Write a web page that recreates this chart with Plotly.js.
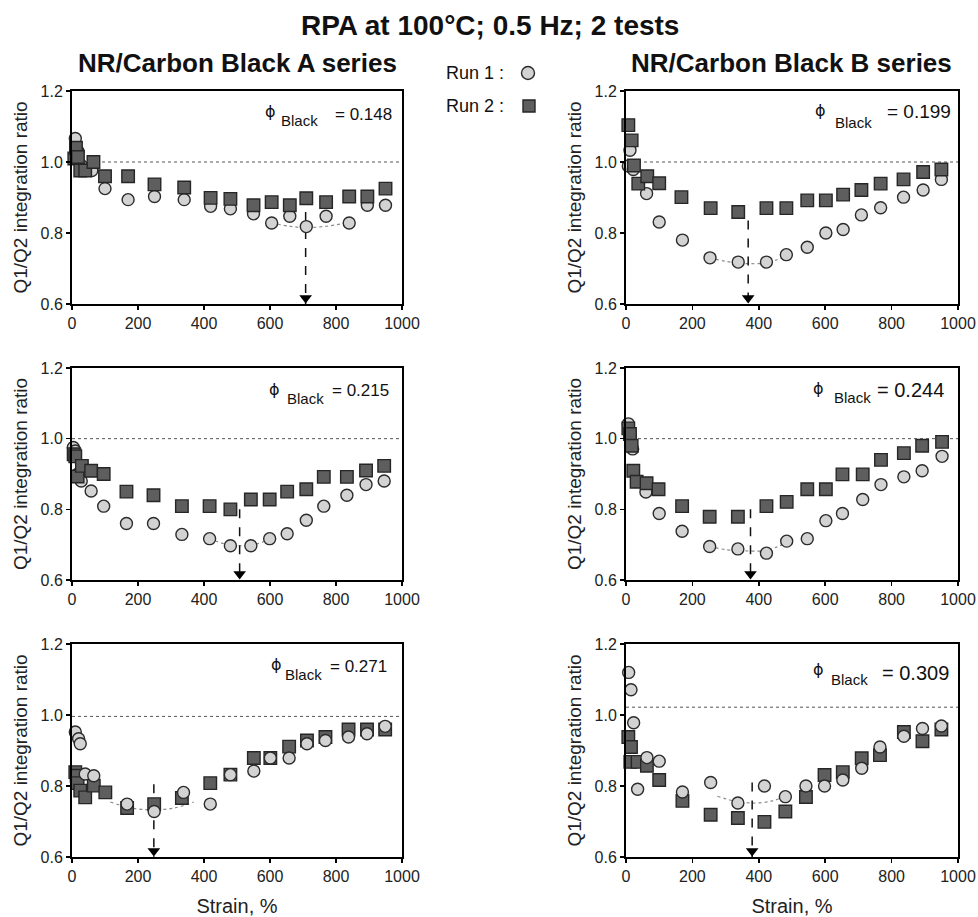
<!DOCTYPE html>
<html>
<head>
<meta charset="utf-8">
<script src="https://cdn.plot.ly/plotly-3.0.1.min.js"></script>
<style>html,body{margin:0;padding:0;background:#fff;}#chart{width:978px;height:917px;}</style>
</head>
<body>
<div id="chart"></div>
<script>
// ---------- DATA ----------
const xTicks = [0, 200, 400, 600, 800, 1000];
const yTicks = [0.6, 0.8, 1.0, 1.2];
const seriesTitles = ["NR/Carbon Black A series", "NR/Carbon Black B series"];
const phiValues = ["0.148", "0.199", "0.215", "0.244", "0.271", "0.309"];

// Panel 1: A, phi 0.148
const p1_run1_strain = [10, 18, 28, 60, 100, 170, 250, 340, 420, 480, 550, 605, 660, 710, 770, 840, 895, 950];
const p1_run1_ratio  = [1.066, 1.03, 0.99, 0.976, 0.925, 0.894, 0.903, 0.894, 0.875, 0.868, 0.854, 0.828, 0.847, 0.818, 0.847, 0.828, 0.878, 0.878];
const p1_run2_strain = [7, 12, 18, 25, 40, 65, 100, 170, 250, 340, 420, 480, 550, 605, 660, 710, 770, 840, 895, 950];
const p1_run2_ratio  = [1.01, 1.04, 1.014, 0.976, 0.976, 1.0, 0.96, 0.96, 0.937, 0.928, 0.899, 0.896, 0.878, 0.887, 0.878, 0.898, 0.887, 0.903, 0.903, 0.925];
// Panel 2: B, phi 0.199
const p2_run1_strain = [7, 12, 22, 62, 100, 170, 253, 338, 423, 483, 546, 602, 654, 709, 767, 836, 895, 950];
const p2_run1_ratio  = [0.989, 1.033, 0.979, 0.911, 0.831, 0.78, 0.73, 0.718, 0.718, 0.739, 0.76, 0.80, 0.81, 0.851, 0.871, 0.901, 0.921, 0.951];
const p2_run2_strain = [7, 17, 24, 37, 64, 100, 167, 255, 338, 423, 483, 546, 602, 654, 709, 767, 836, 895, 950];
const p2_run2_ratio  = [1.104, 1.061, 0.99, 0.939, 0.96, 0.94, 0.901, 0.87, 0.859, 0.87, 0.87, 0.892, 0.892, 0.908, 0.921, 0.939, 0.951, 0.972, 0.979];
// Panel 3: A, phi 0.215
const p3_run1_strain = [4, 10, 18, 28, 58, 96, 165, 247, 333, 417, 480, 542, 599, 652, 710, 763, 833, 891, 946];
const p3_run1_ratio  = [0.975, 0.965, 0.90, 0.88, 0.852, 0.809, 0.76, 0.76, 0.729, 0.717, 0.697, 0.697, 0.717, 0.731, 0.769, 0.809, 0.84, 0.87, 0.88];
const p3_run2_strain = [5, 10, 17, 30, 58, 96, 165, 247, 333, 417, 480, 542, 599, 652, 710, 763, 833, 891, 946];
const p3_run2_ratio  = [0.956, 0.95, 0.893, 0.923, 0.909, 0.90, 0.85, 0.84, 0.809, 0.809, 0.80, 0.828, 0.828, 0.85, 0.857, 0.892, 0.892, 0.91, 0.923];
// Panel 4: B, phi 0.244
const p4_run1_strain = [7, 12, 20, 60, 100, 169, 252, 337, 423, 484, 546, 602, 652, 713, 768, 837, 892, 952];
const p4_run1_ratio  = [1.042, 1.009, 0.971, 0.849, 0.788, 0.738, 0.695, 0.688, 0.676, 0.71, 0.717, 0.768, 0.788, 0.828, 0.87, 0.892, 0.909, 0.95];
const p4_run2_strain = [7, 12, 17, 22, 32, 62, 98, 169, 252, 337, 423, 484, 546, 602, 652, 713, 768, 837, 892, 952];
const p4_run2_ratio  = [1.029, 1.013, 0.98, 0.909, 0.878, 0.874, 0.857, 0.809, 0.779, 0.779, 0.809, 0.821, 0.857, 0.857, 0.899, 0.899, 0.94, 0.959, 0.98, 0.991];
// Panel 5: A, phi 0.271
const p5_run1_strain = [10, 20, 25, 40, 66, 167, 249, 338, 419, 480, 551, 601, 658, 712, 768, 838, 894, 949];
const p5_run1_ratio  = [0.952, 0.933, 0.919, 0.834, 0.829, 0.749, 0.728, 0.782, 0.749, 0.832, 0.842, 0.879, 0.879, 0.919, 0.928, 0.938, 0.947, 0.968];
const p5_run2_strain = [10, 14, 17, 25, 40, 66, 101, 167, 249, 333, 419, 480, 551, 601, 658, 712, 768, 838, 894, 949];
const p5_run2_ratio  = [0.839, 0.829, 0.808, 0.787, 0.768, 0.801, 0.782, 0.738, 0.749, 0.766, 0.808, 0.832, 0.879, 0.879, 0.911, 0.928, 0.938, 0.959, 0.959, 0.959];
// Panel 6: B, phi 0.309
const p6_run1_strain = [8, 15, 23, 35, 63, 100, 170, 255, 337, 417, 480, 542, 598, 653, 710, 765, 837, 893, 950];
const p6_run1_ratio  = [1.12, 1.071, 0.978, 0.791, 0.88, 0.87, 0.783, 0.81, 0.752, 0.80, 0.77, 0.80, 0.80, 0.817, 0.85, 0.91, 0.94, 0.962, 0.969];
const p6_run2_strain = [7, 13, 15, 35, 63, 100, 170, 255, 337, 417, 480, 542, 598, 653, 710, 765, 837, 893, 950];
const p6_run2_ratio  = [0.938, 0.868, 0.91, 0.868, 0.857, 0.817, 0.758, 0.719, 0.71, 0.699, 0.728, 0.769, 0.831, 0.839, 0.878, 0.887, 0.952, 0.926, 0.959];

// dotted guide curves around the Run 1 minimum
const p1_curve_x = [605, 660, 710, 770, 840], p1_curve_y = [0.828, 0.819, 0.815, 0.819, 0.83];
const p2_curve_x = [253, 300, 360, 423, 483], p2_curve_y = [0.73, 0.72, 0.714, 0.716, 0.735];
const p3_curve_x = [417, 460, 510, 560, 610], p3_curve_y = [0.717, 0.703, 0.697, 0.702, 0.72];
const p4_curve_x = [252, 300, 380, 423, 484], p4_curve_y = [0.695, 0.686, 0.682, 0.684, 0.705];
const p5_curve_x = [116, 180, 247, 310, 369], p5_curve_y = [0.755, 0.738, 0.733, 0.738, 0.755];
const p6_curve_x = [275, 330, 385, 440, 485], p6_curve_y = [0.771, 0.757, 0.752, 0.758, 0.773];

// dashed arrows marking the minimum strain
const arrowStrain = [708, 368, 508, 375, 248, 380];
const arrowTop    = [0.91, 0.835, 0.80, 0.80, 0.805, 0.81];
// dotted reference line level
const refLevel    = [1.0, 1.0, 1.0, 1.0, 0.996, 1.022];

// ---------- LAYOUT GEOMETRY (styles) ----------
const W = 978, H = 917;
const colPx = [[72, 402], [626, 958]];
const rowPx = [[91, 304], [368, 580], [644, 857]];
const circlesOnTop = [false, false, false, false, true, true];
// phi label placement per panel: [phiX, phiY, blackX, blackY, valX, valY, valSize]
const phiPos = [
  [263, 111, 279, 121, 333, 115, 17],
  [813, 110, 833, 122, 885, 112, 19],
  [267, 389, 285, 399, 330, 390, 17],
  [811, 388, 832, 398, 875, 390, 20],
  [269, 664, 283, 674, 328, 666, 17],
  [811, 669, 829, 679, 880, 673, 20]
];

const run1 = [[p1_run1_strain,p1_run1_ratio],[p2_run1_strain,p2_run1_ratio],[p3_run1_strain,p3_run1_ratio],[p4_run1_strain,p4_run1_ratio],[p5_run1_strain,p5_run1_ratio],[p6_run1_strain,p6_run1_ratio]];
const run2 = [[p1_run2_strain,p1_run2_ratio],[p2_run2_strain,p2_run2_ratio],[p3_run2_strain,p3_run2_ratio],[p4_run2_strain,p4_run2_ratio],[p5_run2_strain,p5_run2_ratio],[p6_run2_strain,p6_run2_ratio]];
const curves = [[p1_curve_x,p1_curve_y],[p2_curve_x,p2_curve_y],[p3_curve_x,p3_curve_y],[p4_curve_x,p4_curve_y],[p5_curve_x,p5_curve_y],[p6_curve_x,p6_curve_y]];

const FONT = "Liberation Sans, Arial, sans-serif";
const traces = [];
const layout = {
  width: W, height: H,
  margin: {l: 0, r: 0, t: 0, b: 0},
  paper_bgcolor: "#fff", plot_bgcolor: "#fff",
  showlegend: false,
  font: {family: FONT, color: "#111"},
  annotations: [], shapes: []
};

const circleMarker = {symbol: "circle", size: 12, color: "#d3d3d3", line: {color: "#2b2b2b", width: 1.4}};
const squareMarker = {symbol: "square", size: 12.5, color: "#5e5e5e", line: {color: "#262626", width: 1.4}};

function paperAnn(px, py, text, size, anchor, family) {
  return {xref: "paper", yref: "paper", x: px / W, y: 1 - py / H, xanchor: anchor || "left", yanchor: "middle",
    showarrow: false, text: text, font: {family: family || FONT, size: size, color: "#111"}};
}

for (let i = 0; i < 6; i++) {
  const col = i % 2, row = Math.floor(i / 2);
  const n = i === 0 ? "" : String(i + 1);
  const xa = "x" + n, ya = "y" + n;
  const xd = [colPx[col][0] / W, colPx[col][1] / W];
  const yd = [1 - rowPx[row][1] / H, 1 - rowPx[row][0] / H];
  const plotH = rowPx[row][1] - rowPx[row][0];
  const xaxis = {
    domain: xd, range: [0, 1000], anchor: ya, tickvals: xTicks,
    ticks: "outside", ticklen: 4, tickwidth: 1.5, tickcolor: "#000",
    showline: true, linecolor: "#000", linewidth: 2, mirror: true,
    showgrid: false, zeroline: false, fixedrange: true,
    tickfont: {family: FONT, size: 16, color: "#222"}
  };
  if (row === 2) xaxis.title = {text: "Strain, %", font: {family: FONT, size: 20, color: "#222"}, standoff: 19};
  layout["xaxis" + n] = xaxis;
  layout["yaxis" + n] = {
    domain: yd, range: [0.6, 1.2], anchor: xa, tickvals: yTicks, tickformat: ".1f",
    ticks: "outside", ticklen: 4, tickwidth: 1.5, tickcolor: "#000",
    showline: true, linecolor: "#000", linewidth: 2, mirror: true,
    showgrid: false, zeroline: false, fixedrange: true,
    tickfont: {family: FONT, size: 16, color: "#222"},
    title: {text: "Q1/Q2 integration ratio", font: {family: FONT, size: 19, color: "#222"}, standoff: 8}
  };

  // reference line
  layout.shapes.push({type: "line", xref: xa + " domain", yref: ya, x0: 0, x1: 1,
    y0: refLevel[i], y1: refLevel[i], line: {color: "#555", width: 1, dash: "dot"}, layer: "below"});

  // guide curve
  traces.push({x: curves[i][0], y: curves[i][1], xaxis: xa, yaxis: ya, mode: "lines",
    line: {color: "#8a8a8a", width: 1.2, dash: "dot", shape: "spline"}, hoverinfo: "skip"});
  // arrow shaft
  traces.push({x: [arrowStrain[i], arrowStrain[i]], y: [arrowTop[i], 0.6], xaxis: xa, yaxis: ya, mode: "lines",
    line: {color: "#111", width: 1.5, dash: "dash"}, hoverinfo: "skip"});

  const c = {x: run1[i][0], y: run1[i][1], xaxis: xa, yaxis: ya, mode: "markers", name: "Run 1", marker: circleMarker, cliponaxis: false};
  const s = {x: run2[i][0], y: run2[i][1], xaxis: xa, yaxis: ya, mode: "markers", name: "Run 2", marker: squareMarker, cliponaxis: false};
  if (circlesOnTop[i]) { traces.push(s, c); } else { traces.push(c, s); }

  // arrow head: tip on the x axis
  traces.push({x: [arrowStrain[i]], y: [0.6 + 0.6 * 6 / plotH], xaxis: xa, yaxis: ya, mode: "markers",
    marker: {symbol: "triangle-down", size: 11, color: "#000"}, cliponaxis: false, hoverinfo: "skip"});

  // phi label: phi, subscript "Black", "= value"
  const p = phiPos[i];
  layout.annotations.push(paperAnn(p[0], p[1], "\u03D5", 16, "left", "DejaVu Sans, Liberation Sans, sans-serif"));
  layout.annotations.push(paperAnn(p[2], p[3], "Black", 15));
  layout.annotations.push(paperAnn(p[4], p[5], "= " + phiValues[i], p[6]));
}

// Titles
layout.annotations.push(paperAnn(490, 26, "<b>RPA at 100°C; 0.5 Hz; 2 tests</b>", 28, "center"));
layout.annotations.push(paperAnn(237, 63, "<b>" + seriesTitles[0] + "</b>", 26, "center"));
layout.annotations.push(paperAnn(791, 63, "<b>" + seriesTitles[1] + "</b>", 26, "center"));

// Legend (text followed by symbol, as in the reference)
layout.annotations.push(paperAnn(506, 73, "Run 1 :", 18, "right"));
layout.annotations.push(paperAnn(506, 106, "Run 2 :", 18, "right"));
layout.shapes.push({type: "circle", xref: "paper", yref: "paper", xsizemode: "pixel", ysizemode: "pixel",
  xanchor: 528 / W, yanchor: 1 - 73 / H, x0: -6.5, x1: 6.5, y0: -6.5, y1: 6.5,
  fillcolor: "#d3d3d3", line: {color: "#2b2b2b", width: 1.4}});
layout.shapes.push({type: "rect", xref: "paper", yref: "paper", xsizemode: "pixel", ysizemode: "pixel",
  xanchor: 529 / W, yanchor: 1 - 106 / H, x0: -6, x1: 6, y0: -6, y1: 6,
  fillcolor: "#5e5e5e", line: {color: "#262626", width: 1.4}});

Plotly.newPlot("chart", traces, layout, {staticPlot: true, displayModeBar: false});
</script>
</body>
</html>
